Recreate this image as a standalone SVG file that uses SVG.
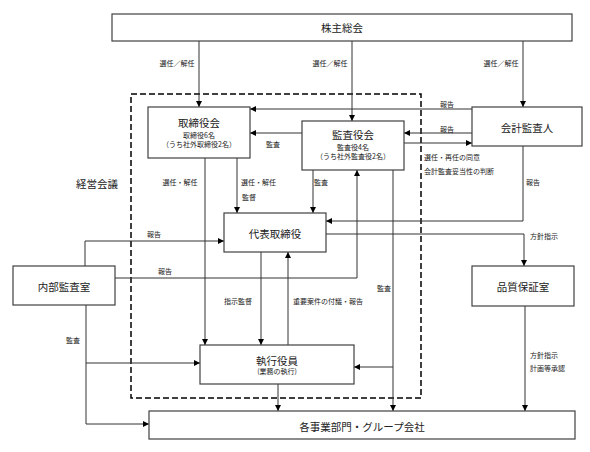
<svg xmlns="http://www.w3.org/2000/svg" width="590" height="452" viewBox="0 0 590 452">
<defs>
<style>
.box{fill:#fff;stroke:#404040;stroke-width:1.2}
.ln{fill:none;stroke:#333;stroke-width:1}
.ar{marker-end:url(#a)}
text{font-family:"Noto Sans CJK JP","Noto Sans CJK SC",sans-serif;fill:#222;dominant-baseline:central}
.t{font-size:10.5px;text-anchor:middle}
.s{font-size:7px;text-anchor:middle}
.l{font-size:7px}
.lc{font-size:7px;text-anchor:middle}
</style>
<marker id="a" viewBox="0 0 10 10" refX="10" refY="5" markerWidth="6" markerHeight="6" orient="auto" markerUnits="userSpaceOnUse"><path d="M0,0 L10,5 L0,10z" fill="#000"/></marker>
</defs>
<rect width="590" height="452" fill="#fff"/>
<g id="keiei">
<rect x="131" y="94" width="290" height="304" fill="none" stroke="#000" stroke-width="1.5" stroke-dasharray="6,3"/>
<text class="t" x="97" y="183" style="font-size:10.5px">経営会議</text>
</g>
<g id="connectors">
<path class="ln ar" d="M199,41 V107"/>
<path class="ln ar" d="M352,41 V121"/>
<path class="ln ar" d="M523,41 V107"/>
<path class="ln ar" d="M472,109 H250"/>
<path class="ln ar" d="M472,133 H404"/>
<path class="ln ar" d="M404,143 H472"/>
<path class="ln ar" d="M302,133 H250"/>
<path class="ln ar" d="M205,158 V345"/>
<path class="ln ar" d="M237,158 V213"/>
<path class="ln ar" d="M313,170 V213"/>
<path class="ln ar" d="M523,146 V221 H326"/>
<path class="ln ar" d="M326,234 H524 V266"/>
<path class="ln ar" d="M115,278 H357 V170"/>
<path class="ln ar" d="M85,266 V241 H224"/>
<path class="ln ar" d="M86,305 V424 H149"/>
<path class="ln ar" d="M86,363 H200"/>
<path class="ln ar" d="M261,252 V345"/>
<path class="ln ar" d="M288,345 V252"/>
<path class="ln ar" d="M393,170 V411"/>
<path class="ln ar" d="M393,367 H354"/>
<path class="ln ar" d="M278,384 V411"/>
<path class="ln ar" d="M525,306 V411"/>
<text class="lc" x="177" y="63">選任／解任</text>
<text class="lc" x="330" y="63">選任／解任</text>
<text class="lc" x="501" y="63">選任／解任</text>
<text class="lc" x="447" y="104">報告</text>
<text class="lc" x="447" y="129">報告</text>
<text class="l" x="424" y="157">選任・再任の同意</text>
<text class="l" x="424" y="171">会計監査妥当性の判断</text>
<text class="lc" x="273" y="144">監査</text>
<text class="lc" x="180" y="182">選任・解任</text>
<text class="l" x="241" y="182">選任・解任</text>
<text class="l" x="242" y="197">監督</text>
<text class="l" x="314" y="182">監査</text>
<text class="l" x="526" y="182">報告</text>
<text class="l" x="530" y="236">方針指示</text>
<text class="lc" x="154" y="234">報告</text>
<text class="lc" x="165" y="271">報告</text>
<text class="lc" x="73" y="340">監査</text>
<text class="lc" x="238" y="301">指示監督</text>
<text class="l" x="293" y="301">重要案件の付議・報告</text>
<text class="lc" x="384" y="288">監査</text>
<text class="l" x="530" y="355">方針指示</text>
<text class="l" x="530" y="368">計画等承認</text>
</g>
<g id="kabunushi"><rect class="box" x="112" y="14" width="460" height="27"/><text class="t" x="342" y="27.5">株主総会</text></g>
<g id="torishimariyakukai"><rect class="box" x="148" y="107" width="102" height="51"/><text class="t" x="199" y="122">取締役会</text><text class="s" x="199" y="135">取締役6名</text><text class="s" x="199" y="144">（うち社外取締役2名）</text></g>
<g id="kansayakukai"><rect class="box" x="302" y="121" width="102" height="49"/><text class="t" x="353" y="134">監査役会</text><text class="s" x="353" y="147">監査役4名</text><text class="s" x="353" y="156">（うち社外監査役2名）</text></g>
<g id="kaikeikansanin"><rect class="box" x="472" y="107" width="110" height="39"/><text class="t" x="527" y="127">会計監査人</text></g>
<g id="daihyo"><rect class="box" x="224" y="213" width="102" height="39"/><text class="t" x="275" y="233">代表取締役</text></g>
<g id="naibukansa"><rect class="box" x="13" y="266" width="102" height="39"/><text class="t" x="64" y="286">内部監査室</text></g>
<g id="hinshitsu"><rect class="box" x="472" y="266" width="102" height="40"/><text class="t" x="523" y="286">品質保証室</text></g>
<g id="shikkoyakuin"><rect class="box" x="200" y="345" width="154" height="39"/><text class="t" x="277" y="360">執行役員</text><text class="s" x="277" y="371">(業務の執行)</text></g>
<g id="kakujigyobu"><rect class="box" x="149" y="411" width="426" height="28"/><text class="t" x="362" y="426">各事業部門・グループ会社</text></g>
</svg>
